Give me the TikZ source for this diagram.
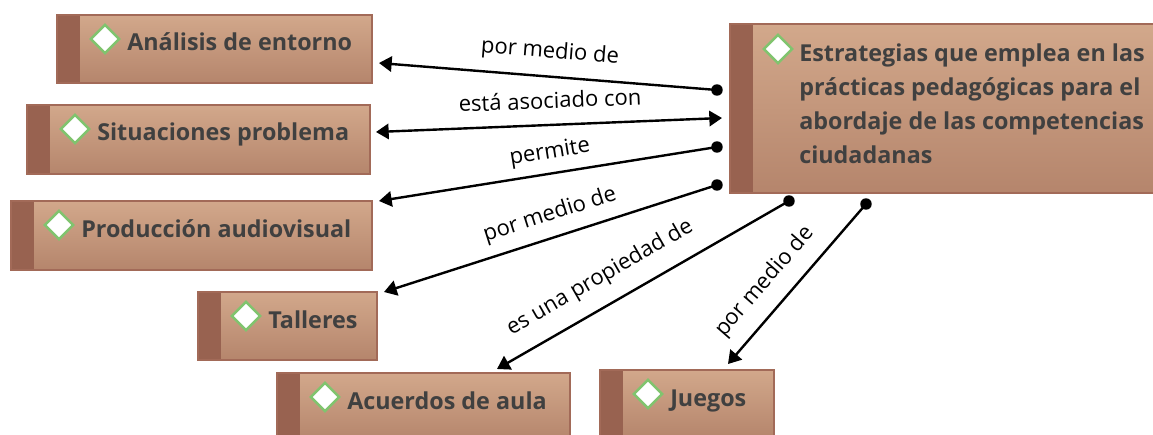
\documentclass[tikz,border=0pt]{standalone}
\usepackage{fontspec}
\setmainfont{Open Sans}
\usetikzlibrary{arrows.meta,fit,calc}
\definecolor{boxtop}{RGB}{210,168,139}
\definecolor{boxbot}{RGB}{181,133,108}
\definecolor{barcol}{RGB}{152,98,80}
\definecolor{bordcol}{RGB}{162,106,88}
\definecolor{txtcol}{RGB}{64,64,64}
\definecolor{diagreen}{RGB}{128,196,110}
\begin{document}
\begin{tikzpicture}[x=0.75pt,y=-0.75pt,
 cbox/.style={draw=bordcol, line width=1.5pt, top color=boxtop, bottom color=boxbot, inner sep=0pt,
   path picture={\fill[barcol] (path picture bounding box.north west) rectangle ([xshift=17.25pt]path picture bounding box.south west);}},
 diam/.style={draw=diagreen, line width=1.9pt, fill=white, rotate=45, minimum size=15pt, inner sep=0pt},
 btext/.style={font=\fontsize{17.5}{25.5}\selectfont\bfseries, text=txtcol, inner sep=0pt, anchor=base west},
 lab/.style={font=\fontsize{16.5}{19}\selectfont, text=black, inner sep=0pt},
 tipx/.tip={Triangle[length=9.5pt,width=11.5pt]},
 conn/.style={line width=1.8pt, -tipx},
 dconn/.style={line width=1.8pt, tipx-tipx},
 dotc/.style={fill=black}
]
\useasboundingbox (0,0) rectangle (1153,435);
\clip (0,0) rectangle (1153,435);

% boxes
\node[cbox, fit={(57,15) (372,83)}] (b1) {};
\node[cbox, fit={(27,105) (370,174)}] (b2) {};
\node[cbox, fit={(11,201) (372,270)}] (b3) {};
\node[cbox, fit={(198,292) (377,360)}] (b4) {};
\node[cbox, fit={(277,373) (570,441)}] (b5) {};
\node[cbox, fit={(600,370) (774,438)}] (b6) {};
\node[cbox, fit={(730,24) (1170,193)}] (m) {};

% diamonds and texts
\foreach \b/\t in {b1/Análisis de entorno, b2/Situaciones problema, b3/Producción audiovisual, b4/Talleres, b5/Acuerdos de aula, b6/Juegos}{
  \node[diam] (k\b) at ($(\b.north west)+(49,25)$) {};
  \node[btext] (t\b) at ($(\b.north west)+(71,37)$) {\t};
}
\node[diam] (km) at ($(m.north west)+(49,26)$) {};
\node[btext, anchor=north west, align=left] (tm) at ($(m.north west)+(70,20.3)$)
  {Estrategias que emplea en las\\prácticas pedagógicas para el\\abordaje de las competencias\\ciudadanas};

% dot coordinates
\coordinate (d1) at ($(m.west)+(-12,-18.5)$);
\coordinate (d3) at ($(m.west)+(-12,38.5)$);
\coordinate (d4) at ($(m.west)+(-12,76.5)$);
\coordinate (d5) at ($(m.south west)+(60,7)$);
\coordinate (d6) at ($(m.south west)+(137,10)$);

% connectors
\draw[conn] (d1) -- ($(b1.east)+(6,14)$);
\draw[dconn] ($(b2.east)+(5,-7.5)$) -- ($(m.west)+(-7,9.5)$);
\draw[conn] (d3) -- ($(b3.north east)+(6,1)$);
\draw[conn] (d4) -- ($(b4.north east)+(6,1)$);
\draw[conn] (d5) -- ($(b5.north)+(73.5,-3)$);
\draw[conn] (d6) -- ($(b6.north)+(41,-5)$);
\foreach \d in {d1,d3,d4,d5,d6}{\fill[dotc] (\d) circle (4.3pt);}

% labels
\node[lab, rotate=-4.5] (l1) at (550,52) {por medio de};
\node[lab, rotate=2.3] (l2) at (550,100) {está asociado con};
\node[lab, rotate=9.2] (l3) at (550,153) {permite};
\node[lab, rotate=17.8] (l4) at (550,215) {por medio de};
\node[lab, rotate=30] (l5) at (600,278) {es una propiedad de};
\node[lab, rotate=49] (l6) at (765,282) {por medio de};
\end{tikzpicture}
\end{document}
